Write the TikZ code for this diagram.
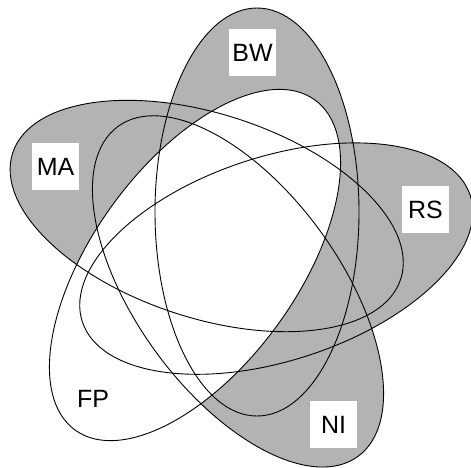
\documentclass[tikz,border=0pt]{standalone}
\usepackage{fontspec}
\setmainfont{Liberation Sans}
\definecolor{shade}{RGB}{179,179,179}
\tikzset{
  setline/.style={draw=black, line width=0.9pt},
  setfill/.style={fill=shade},
  lbl/.style={fill=white, minimum width=47pt, minimum height=47pt, inner sep=0pt,
              font=\fontsize{25}{30}\selectfont},
  bwrot/.style={rotate around={90:(257,212)}},
  marot/.style={rotate around={162:(206.7,216)}},
  fprot/.style={rotate around={54:(195,265)}},
  nirot/.style={rotate around={126:(238,291.4)}},
  rsrot/.style={rotate around={18:(276.3,258.6)}},
  egg/.style={x radius=204pt, y radius=102pt}
}
\begin{document}
\begin{tikzpicture}[x=1pt,y=-1pt]
\fill[white] (0,0) rectangle (471,467);
\useasboundingbox (0,0) rectangle (471,467);
% shaded sets
\fill[setfill, bwrot] (257,212) ellipse [egg];
\fill[setfill, marot] (206.7,216) ellipse [egg];
\fill[setfill, rsrot] (276.3,258.6) ellipse [egg];
\fill[setfill, nirot] (238,291.4) ellipse [egg];
\fill[white, fprot] (195,265) ellipse [egg];
% outlines
\draw[setline, bwrot] (257,212) ellipse [egg];
\draw[setline, marot] (206.7,216) ellipse [egg];
\draw[setline, rsrot] (276.3,258.6) ellipse [egg];
\draw[setline, nirot] (238,291.4) ellipse [egg];
\draw[setline, fprot] (195,265) ellipse [egg];
% labels
\node[lbl] (bw) at (252.5,52.5) {BW};
\node[lbl] (ma) at (55.5,166.5) {MA};
\node[lbl] (rs) at (425.5,209.5) {RS};
\node[lbl] (ni) at (333.5,424.5) {NI};
\node[lbl] (fp) at (93,399) {FP};
\end{tikzpicture}
\end{document}
